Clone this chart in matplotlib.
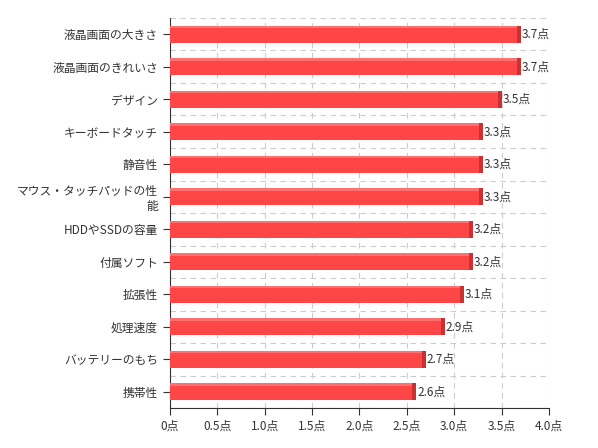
import matplotlib
matplotlib.use("Agg")
import matplotlib.pyplot as plt
import numpy as np

plt.rcParams['font.family'] = ['Noto Sans CJK JP', 'DejaVu Sans']

categories = ["液晶画面の大きさ", "液晶画面のきれいさ", "デザイン", "キーボードタッチ", "静音性",
              "マウス・タッチパッドの性\n能", "HDDやSSDの容量", "付属ソフト", "拡張性",
              "処理速度", "バッテリーのもち", "携帯性"]
values = [3.7, 3.7, 3.5, 3.3, 3.3, 3.3, 3.2, 3.2, 3.1, 2.9, 2.7, 2.6]
xticks = [0, 0.5, 1.0, 1.5, 2.0, 2.5, 3.0, 3.5, 4.0]
xtick_labels = ["0点", "0.5点", "1.0点", "1.5点", "2.0点", "2.5点", "3.0点", "3.5点", "4.0点"]

fig = plt.figure(figsize=(5.98, 4.48), dpi=100)
ax = fig.add_axes([0.284, 0.089, 0.634, 0.871])

y = np.arange(len(categories))
h = 0.52
vals = np.array(values)
ax.barh(y, vals, height=h, color="#ff4646", zorder=3)
# darker right edge and light top highlight for the 3D look
ax.barh(y, 0.04, left=vals - 0.04, height=h, color="#c83232", zorder=4)
ax.barh(y - h / 2 + 0.04, vals - 0.04, height=0.08, color="#ff7070", zorder=4)
for yi, v in zip(y, vals):
    ax.text(v + 0.01, yi, f"{v:.1f}点", va="center", ha="left", fontsize=8.5, color="#333333", zorder=5)

ax.set_ylim(len(categories) - 0.5, -0.5)
ax.set_xlim(0, 4.0)
ax.set_yticks(y)
ax.set_yticklabels(categories, fontsize=8.5, color="#333333")
ax.set_xticks(xticks)
ax.set_xticklabels(xtick_labels, fontsize=8.5, color="#333333")
ax.set_yticks(np.arange(len(categories) + 1) - 0.5, minor=True)
ax.tick_params(axis="y", which="minor", length=0)
ax.tick_params(axis="both", which="major", length=5, color="#333333")
ax.grid(True, axis="x", which="major", linestyle=(0, (5, 4)), color="#cccccc", linewidth=0.8, zorder=0)
ax.grid(True, axis="y", which="minor", linestyle=(0, (5, 4)), color="#cccccc", linewidth=0.8, zorder=0)
for s in ("top", "right"):
    ax.spines[s].set_visible(False)
for s in ("left", "bottom"):
    ax.spines[s].set_color("#333333")

fig.savefig("out.png", dpi=100)
